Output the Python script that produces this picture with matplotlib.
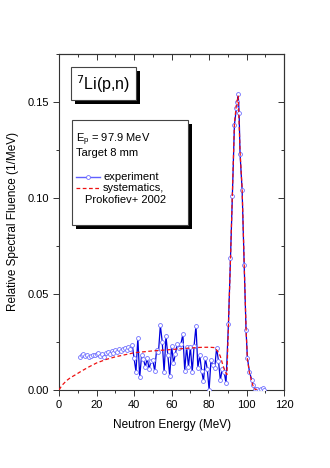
import matplotlib.pyplot as plt
import matplotlib.patheffects as pe
from matplotlib.patches import Rectangle
from matplotlib.ticker import MultipleLocator

plt.rcParams['font.family'] = ['Liberation Sans', 'DejaVu Sans']

# experiment (neutron energy in MeV, fluence in 1/MeV)
exp_energy = list(range(11, 90)) + [
    90.3, 91.4, 92.4, 93.5, 94.6, 95.1, 95.5, 96.0, 96.5, 97.6, 98.7, 99.7,
    100.4, 101.5, 102.8, 103.6, 104.5, 105.5, 106.5, 107.5, 108.5, 109.5]
exp_fluence = [
    0.0172, 0.0180, 0.0188, 0.0178, 0.0183, 0.0170, 0.0176, 0.0184, 0.0180, 0.0186,
    0.0190, 0.0178, 0.0186, 0.0172, 0.0192, 0.0198, 0.0186, 0.0200, 0.0194, 0.0208,
    0.0196, 0.0212, 0.0200, 0.0215, 0.0218, 0.0206, 0.0222, 0.0212, 0.0236, 0.0164,
    0.0095, 0.0270, 0.0065, 0.0180, 0.0160, 0.0120, 0.0165, 0.0108, 0.0150, 0.0155,
    0.0098, 0.0210, 0.0195, 0.0336, 0.0250, 0.0092, 0.0280, 0.0180, 0.0070, 0.0230,
    0.0140, 0.0185, 0.0240, 0.0218, 0.0240, 0.0290, 0.0100, 0.0225, 0.0120, 0.0225,
    0.0095, 0.0230, 0.0334, 0.0115, 0.0180, 0.0100, 0.0045, 0.0165, 0.0110, 0.0000,
    0.0155, 0.0130, 0.0115, 0.0220, 0.0150, 0.0050, 0.0110, 0.0095, 0.0035,
    0.0344, 0.0686, 0.1010, 0.1380, 0.1470, 0.1500, 0.1540, 0.1440, 0.1230, 0.1040,
    0.0650, 0.0310, 0.0167, 0.0095, 0.0049, 0.0026, 0.0005, 0.0002, 0.0000, 0.0005,
    0.0010, 0.0000]

# systematics, Prokofiev+ 2002
sys_energy = [0, 1, 2, 4, 6, 9, 12, 16, 20, 25, 30, 40, 50, 60, 70, 75, 80, 83,
              85, 86, 87, 88.5, 89.5, 90.3, 91.4, 92.4, 93.5, 94.6, 95.5, 96.5,
              97.6, 98.7, 99.7, 100.4, 101.5, 102.8, 103.6, 104.5, 105.5]
sys_fluence = [0.0, 0.0015, 0.0028, 0.0048, 0.0063, 0.0080, 0.0098, 0.0120, 0.0140,
               0.0158, 0.0172, 0.0193, 0.0203, 0.0210, 0.0218, 0.0221, 0.0222, 0.0220,
               0.0195, 0.0174, 0.0140, 0.0095, 0.0080, 0.0330, 0.0680, 0.1020, 0.1390,
               0.1490, 0.1530, 0.1240, 0.1050, 0.0660, 0.0320, 0.0160, 0.0090, 0.0040,
               0.0015, 0.0003, 0.0]

fig = plt.figure(figsize=(3.3, 4.68), dpi=100)
ax = fig.add_axes([0.179, 0.167, 0.682, 0.718])

ax.plot(exp_energy, exp_fluence, color='#0000dd', lw=0.9, marker='o', ms=2.8,
        mfc='white', mec='#7070ff', mew=0.6, zorder=3)
ax.plot(sys_energy, sys_fluence, color='#ee1111', lw=0.9, ls=(0, (3, 2)), zorder=4)

ax.set_xlim(0, 120)
ax.set_ylim(0, 0.175)
ax.xaxis.set_major_locator(MultipleLocator(20))
ax.xaxis.set_minor_locator(MultipleLocator(10))
ax.yaxis.set_major_locator(MultipleLocator(0.05))
ax.yaxis.set_minor_locator(MultipleLocator(0.025))
ax.yaxis.set_major_formatter(lambda v, p: f'{v:.2f}')
ax.tick_params(which='both', direction='out', labelsize=8, width=0.7, color='#333333')
ax.tick_params(which='major', length=4)
ax.tick_params(which='minor', length=2.5)
ax2 = ax.secondary_xaxis('top')
ax2.xaxis.set_major_locator(MultipleLocator(20))
ax2.xaxis.set_minor_locator(MultipleLocator(10))
ax2.tick_params(which='both', direction='in', labeltop=False, width=0.7, color='#333333')
ax2.tick_params(which='major', length=4)
ax2.tick_params(which='minor', length=2.5)
ax3 = ax.secondary_yaxis('right')
ax3.yaxis.set_major_locator(MultipleLocator(0.05))
ax3.yaxis.set_minor_locator(MultipleLocator(0.025))
ax3.tick_params(which='both', direction='in', labelright=False, width=0.7, color='#333333')
ax3.tick_params(which='major', length=4)
ax3.tick_params(which='minor', length=2.5)
for a in (ax, ax2, ax3):
    for s in a.spines.values():
        s.set_linewidth(0.8)
        s.set_color('#333333')

ax.set_xlabel('Neutron Energy (MeV)', fontsize=8.5, labelpad=6)
ax.set_ylabel('Relative Spectral Fluence (1/MeV)', fontsize=8.5, labelpad=6)

shadow = [pe.SimplePatchShadow(offset=(3, -3), shadow_rgbFace='black', alpha=1),
          pe.Normal()]

t = ax.text(0.196, 0.911, '$^7$Li(p,n)', transform=ax.transAxes, fontsize=11.5,
            ha='center', va='center', zorder=6,
            bbox=dict(boxstyle='square,pad=0.35', fc='white', ec='#444444', lw=0.8))
t.get_bbox_patch().set_path_effects(shadow)

box = Rectangle((0.058, 0.491), 0.516, 0.3125, transform=ax.transAxes,
                fc='white', ec='#444444', lw=0.8, zorder=5)
box.set_path_effects(shadow)
ax.add_patch(box)

ax.text(0.075, 0.744, 'E$_\\mathregular{p}$ = 97.9 MeV', transform=ax.transAxes,
        fontsize=8, va='center', zorder=6)
ax.text(0.075, 0.705, 'Target 8 mm', transform=ax.transAxes, fontsize=8,
        va='center', zorder=6)
ax.plot([0.075, 0.182], [0.633, 0.633], transform=ax.transAxes, color='#6060ff',
        lw=1.0, zorder=6)
ax.plot([0.129], [0.633], transform=ax.transAxes, marker='o', ms=2.8, mfc='white',
        mec='#7070ff', mew=0.6, zorder=7)
ax.text(0.196, 0.633, 'experiment', transform=ax.transAxes, fontsize=8,
        va='center', zorder=6)
ax.plot([0.075, 0.182], [0.600, 0.600], transform=ax.transAxes, color='#ee1111',
        lw=0.9, ls=(0, (3, 2)), zorder=6)
ax.text(0.196, 0.600, 'systematics,', transform=ax.transAxes, fontsize=8,
        va='center', zorder=6)
ax.text(0.116, 0.565, 'Prokofiev+ 2002', transform=ax.transAxes, fontsize=8,
        va='center', zorder=6)

fig.savefig('out.png', dpi=100)
